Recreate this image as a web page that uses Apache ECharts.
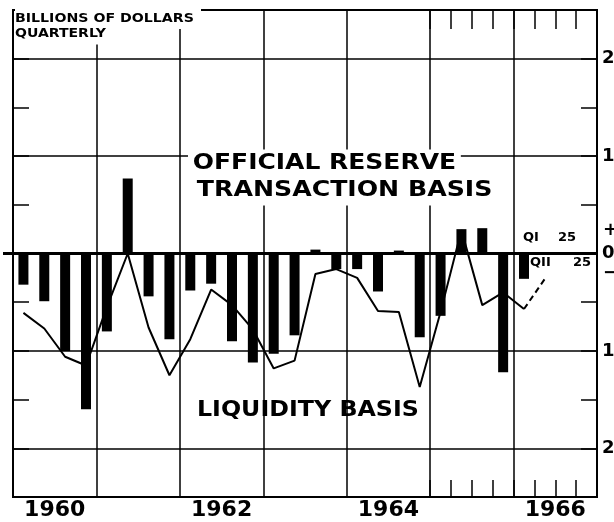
<!DOCTYPE html>
<html>
<head>
<meta charset="utf-8">
<script src="https://cdn.jsdelivr.net/npm/echarts@6/dist/echarts.min.js"></script>
<style>
html, body { margin: 0; padding: 0; background: #fff; }
#main { width: 614px; height: 522px; }
</style>
</head>
<body>
<div id="main"></div>
<script>
// quarterly, billions of dollars
var years = ['1960', '1961', '1962', '1963', '1964', '1965', '1966'];
var quarterNames = ['Q1', 'Q2', 'Q3', 'Q4'];

// official reserve transaction basis (bars), 1960 Q1 .. 1966 Q1
var officialReserve = [
    -0.32, -0.49, -1.00, -1.60,
    -0.80,  0.77, -0.44, -0.88,
    -0.38, -0.31, -0.90, -1.12,
    -1.03, -0.84,  0.04, -0.16,
    -0.16, -0.39,  0.03, -0.86,
    -0.64,  0.25,  0.26, -1.22,
    -0.26
];

// liquidity basis (line), 1960 Q1 .. 1966 Q1
var liquidity = [
    -0.61, -0.77, -1.06, -1.15,
    -0.55,  0.00, -0.76, -1.25,
    -0.88, -0.37, -0.53, -0.78,
    -1.18, -1.10, -0.21, -0.16,
    -0.25, -0.59, -0.60, -1.37,
    -0.60,  0.24, -0.53, -0.40,
    -0.57
];
// preliminary 1966 Q2 (dashed)
var liquidity1966Q2 = -0.26;

var quarters = [];
years.forEach(function (y) {
    quarterNames.forEach(function (q) {
        quarters.push(y + ' ' + q);
    });
});

var lastIdx = liquidity.length - 1;
var dashedData = quarters.map(function (q, i) {
    if (i === lastIdx) return liquidity[lastIdx];
    if (i === lastIdx + 1) return liquidity1966Q2;
    return null;
});

var FONT = 'DejaVu Sans';

function quarterTick(i) {
    return i >= 20;   // quarter marks only for 1965-66
}

var chart = echarts.init(document.getElementById('main'));

var opts = {
    animation: false,
    backgroundColor: '#fff',
    grid: {
        left: 13,
        right: 17,
        top: 10,
        bottom: 25,
        show: true,
        borderColor: '#000',
        borderWidth: 2,
        backgroundColor: '#fff',
        outerBoundsMode: 'none'
    },
    xAxis: [
        {
            type: 'category',
            data: quarters,
            boundaryGap: true,
            position: 'bottom',
            axisLine: { show: false, onZero: false },
            axisTick: {
                show: true, inside: true, length: 17,
                interval: quarterTick,
                lineStyle: { color: '#000', width: 1.5 }
            },
            axisLabel: { show: false },
            splitLine: {
                show: true, interval: 3,
                lineStyle: { color: '#000', width: 1.5 }
            }
        },
        {
            type: 'category',
            data: years,
            boundaryGap: true,
            position: 'bottom',
            axisLine: { show: false, onZero: false },
            axisTick: { show: false },
            splitLine: { show: false },
            axisLabel: {
                interval: 1,
                margin: 2,
                color: '#000',
                fontFamily: FONT,
                fontWeight: 'bold',
                fontSize: 22
            }
        },
        {
            type: 'category',
            data: quarters,
            boundaryGap: true,
            position: 'top',
            axisLine: { show: false, onZero: false },
            axisTick: {
                show: true, inside: true, length: 19,
                interval: quarterTick,
                lineStyle: { color: '#000', width: 1.5 }
            },
            axisLabel: { show: false },
            splitLine: { show: false }
        }
    ],
    yAxis: [
        {
            type: 'value',
            min: -2.5,
            max: 2.5,
            interval: 0.5,
            position: 'left',
            axisLine: { show: false },
            axisTick: {
                show: true, inside: true, length: 16,
                lineStyle: { color: '#000', width: 1.5 }
            },
            axisLabel: { show: false },
            splitLine: { show: false }
        },
        {
            type: 'value',
            min: -2.5,
            max: 2.5,
            interval: 0.5,
            position: 'right',
            axisLine: { show: false },
            axisTick: {
                show: true, inside: true, length: 16,
                lineStyle: { color: '#000', width: 1.5 }
            },
            axisLabel: {
                margin: 5,
                color: '#000',
                fontFamily: FONT,
                fontWeight: 'bold',
                fontSize: 18,
                formatter: function (v) {
                    return v % 1 === 0 ? String(Math.abs(v)) : '';
                }
            },
            splitLine: { show: false }
        }
    ],
    series: [
        {
            name: 'Official reserve transaction basis',
            type: 'bar',
            data: officialReserve,
            barWidth: 10,
            itemStyle: { color: '#000' },
            markLine: {
                silent: true,
                symbol: ['none', 'none'],
                label: { show: false },
                lineStyle: { color: '#000', width: 1.5, type: 'solid' },
                data: [
                    { yAxis: 2 },
                    { yAxis: 1 },
                    { yAxis: -1 },
                    { yAxis: -2 },
                    { yAxis: 0, lineStyle: { width: 3 } }
                ]
            }
        },
        {
            name: 'Liquidity basis',
            type: 'line',
            data: liquidity,
            symbol: 'none',
            z: 3,
            lineStyle: { color: '#000', width: 2 }
        },
        {
            name: 'Liquidity basis (prelim.)',
            type: 'line',
            data: dashedData,
            symbol: 'none',
            connectNulls: false,
            z: 3,
            lineStyle: { color: '#000', width: 2, type: [6, 4] }
        }
    ],
    graphic: [
        {
            type: 'text', id: 'unit1', z: 100,
            x: 15, y: 19, scaleX: 1.18,
            style: {
                text: 'BILLIONS OF DOLLARS',
                fill: '#000', font: 'bold 12px "' + FONT + '"',
                verticalAlign: 'middle',
                backgroundColor: '#fff',
                padding: [2, 6, 6, 0]
            }
        },
        {
            type: 'text', id: 'unit2', z: 100,
            x: 15, y: 34, scaleX: 1.17,
            style: {
                text: 'QUARTERLY',
                fill: '#000', font: 'bold 12px "' + FONT + '"',
                verticalAlign: 'middle',
                backgroundColor: '#fff',
                padding: [0, 8, 9, 0]
            }
        },
        {
            type: 'text', id: 'orb1', z: 100,
            x: 188, y: 164, scaleX: 1.19,
            style: {
                text: 'OFFICIAL RESERVE',
                fill: '#000', font: 'bold 21px "' + FONT + '"',
                verticalAlign: 'middle',
                backgroundColor: '#fff',
                padding: [4, 4, 4, 4]
            }
        },
        {
            type: 'text', id: 'orb2', z: 100,
            x: 192, y: 191, scaleX: 1.20,
            style: {
                text: 'TRANSACTION BASIS',
                fill: '#000', font: 'bold 21px "' + FONT + '"',
                verticalAlign: 'middle',
                backgroundColor: '#fff',
                padding: [4, 4, 4, 4]
            }
        },
        {
            type: 'text', id: 'liq', z: 100,
            x: 197, y: 411, scaleX: 1.13,
            style: {
                text: 'LIQUIDITY BASIS',
                fill: '#000', font: 'bold 21px "' + FONT + '"',
                verticalAlign: 'middle'
            }
        },
        {
            type: 'text', id: 'q1a', z: 100, x: 523, y: 238,
            style: { text: 'QI', fill: '#000', font: 'bold 13px "' + FONT + '"', verticalAlign: 'middle' }
        },
        {
            type: 'text', id: 'q1b', z: 100, x: 558, y: 238,
            style: { text: '25', fill: '#000', font: 'bold 13px "' + FONT + '"', verticalAlign: 'middle' }
        },
        {
            type: 'text', id: 'q2a', z: 100, x: 530, y: 263,
            style: { text: 'QII', fill: '#000', font: 'bold 13px "' + FONT + '"', verticalAlign: 'middle' }
        },
        {
            type: 'text', id: 'q2b', z: 100, x: 573, y: 263,
            style: { text: '25', fill: '#000', font: 'bold 13px "' + FONT + '"', verticalAlign: 'middle' }
        }
    ]
};

chart.setOption(opts);

// sign marks around the zero label, and the zero line stub left of the frame
var y0 = chart.convertToPixel({ yAxisIndex: 0 }, 0);
chart.setOption({
    graphic: [
        {
            type: 'text', id: 'plus', z: 100, x: 603, y: y0 - 23,
            style: { text: '+', fill: '#000', font: 'bold 18px "' + FONT + '"', verticalAlign: 'middle' }
        },
        {
            type: 'text', id: 'minus', z: 100, x: 603, y: y0 + 20,
            style: { text: '\u2212', fill: '#000', font: 'bold 18px "' + FONT + '"', verticalAlign: 'middle' }
        },
        {
            type: 'line', id: 'zeroStub', z: 100,
            shape: { x1: 3, y1: y0, x2: 14, y2: y0 },
            style: { stroke: '#000', lineWidth: 3 }
        }
    ]
});
</script>
</body>
</html>
